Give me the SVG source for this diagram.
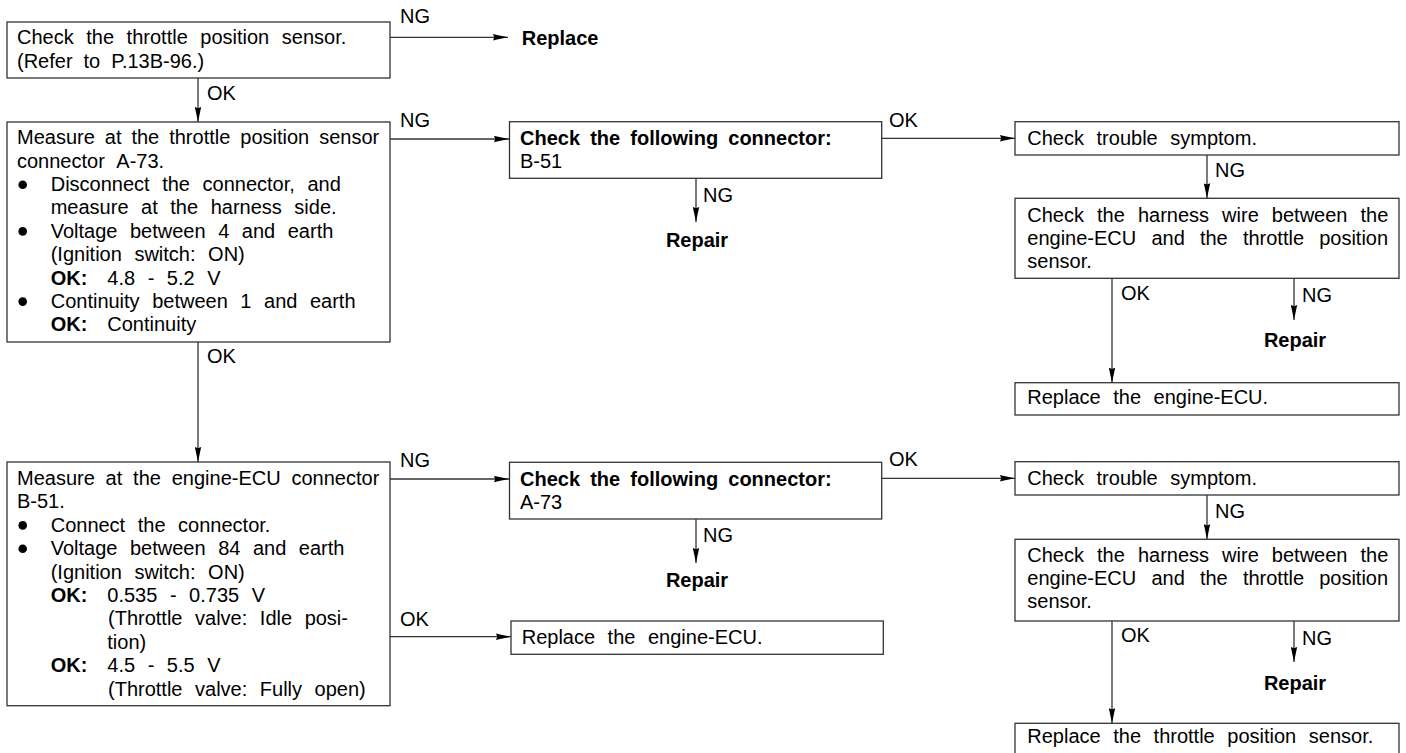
<svg xmlns="http://www.w3.org/2000/svg" width="1406" height="753" viewBox="0 0 1406 753">
<defs>
<style>
.box{fill:#fff;stroke:#333;stroke-width:1.3}
.t{font-family:"Liberation Sans",Arial,Helvetica,sans-serif;font-size:20px;word-spacing:7px;fill:#000}
.b{font-weight:bold}
.c{font-family:"Liberation Sans",Arial,Helvetica,sans-serif;font-size:20px;font-weight:bold;fill:#000;text-anchor:middle}
.conn{stroke:#333;stroke-width:1.3;fill:none;marker-end:url(#ah)}
.dot{fill:#000}
</style>
<marker id="ah" markerUnits="userSpaceOnUse" viewBox="0 0 15 7" markerWidth="15" markerHeight="7" refX="15" refY="3.5" orient="auto">
<path d="M0,0.3 L4,1.2 L15,3.5 L4,5.8 L0,6.7 L1.2,3.5 z" fill="#000"/>
</marker>
</defs>
<rect width="1406" height="753" fill="#fff"/>

<g id="connectors">
<path class="conn" d="M390,37.3 H508"/>
<path class="conn" d="M198,78 V122"/>
<path class="conn" d="M390,139 H509"/>
<path class="conn" d="M198,342 V462"/>
<path class="conn" d="M882,138.3 H1015"/>
<path class="conn" d="M696,178.3 V222"/>
<path class="conn" d="M1207,155 V198.3"/>
<path class="conn" d="M1112,278.3 V382.7"/>
<path class="conn" d="M1294,278.3 V320"/>
<path class="conn" d="M390,479 H509"/>
<path class="conn" d="M390,636.7 H511"/>
<path class="conn" d="M882,478.3 H1015"/>
<path class="conn" d="M696,519 V563"/>
<path class="conn" d="M1207,495 V539.3"/>
<path class="conn" d="M1112,621 V723.3"/>
<path class="conn" d="M1294,621 V662"/>
<g class="t">
<text x="400" y="23">NG</text>
<text x="207" y="100">OK</text>
<text x="400" y="126.5">NG</text>
<text x="207" y="363">OK</text>
<text x="889" y="126.5">OK</text>
<text x="703" y="201.7">NG</text>
<text x="1215" y="177">NG</text>
<text x="1121" y="300">OK</text>
<text x="1302" y="301.5">NG</text>
<text x="400" y="467">NG</text>
<text x="400" y="625.7">OK</text>
<text x="889" y="466">OK</text>
<text x="703" y="541.7">NG</text>
<text x="1215" y="518">NG</text>
<text x="1121" y="641.7">OK</text>
<text x="1302" y="645">NG</text>
</g>
</g>

<g id="n1">
<rect class="box" x="7" y="22" width="383" height="56"/>
<text class="t" x="17" y="44">Check the throttle position sensor.</text>
<text class="t" x="17" y="67.7" style="word-spacing:5.4px">(Refer to P.13B-96.)</text>
</g>

<g id="replace1">
<text class="t b" x="521.7" y="45" style="word-spacing:0">Replace</text>
</g>

<g id="n2">
<rect class="box" x="7" y="122" width="383" height="220"/>
<text class="t" x="17" y="144.3" style="word-spacing:4.4px">Measure at the throttle position sensor</text>
<text class="t" x="17" y="167.7">connector A-73.</text>
<circle class="dot" cx="22.7" cy="184.7" r="4.3"/>
<text class="t" x="50.7" y="191">Disconnect the connector, and</text>
<text class="t" x="50.7" y="214.4">measure at the harness side.</text>
<circle class="dot" cx="22.7" cy="231.4" r="4.3"/>
<text class="t" x="50.7" y="237.8">Voltage between 4 and earth</text>
<text class="t" x="50.7" y="261.2">(Ignition switch: ON)</text>
<text class="t b" x="50.7" y="284.6">OK:</text>
<text class="t" x="107.3" y="284.6">4.8 - 5.2 V</text>
<circle class="dot" cx="22.7" cy="301.6" r="4.3"/>
<text class="t" x="50.7" y="308">Continuity between 1 and earth</text>
<text class="t b" x="50.7" y="331.4">OK:</text>
<text class="t" x="107.3" y="331.4">Continuity</text>
</g>

<g id="n3">
<rect class="box" x="7" y="462" width="383" height="243.7"/>
<text class="t" x="17" y="485" style="word-spacing:5.25px">Measure at the engine-ECU connector</text>
<text class="t" x="17" y="508.4">B-51.</text>
<circle class="dot" cx="22.7" cy="525.4" r="4.3"/>
<text class="t" x="50.7" y="531.8">Connect the connector.</text>
<circle class="dot" cx="22.7" cy="548.8" r="4.3"/>
<text class="t" x="50.7" y="555.2">Voltage between 84 and earth</text>
<text class="t" x="50.7" y="578.6">(Ignition switch: ON)</text>
<text class="t b" x="50.7" y="602">OK:</text>
<text class="t" x="107.3" y="602">0.535 - 0.735 V</text>
<text class="t" x="108" y="625.4">(Throttle valve: Idle posi-</text>
<text class="t" x="107.3" y="648.8">tion)</text>
<text class="t b" x="50.7" y="672.2">OK:</text>
<text class="t" x="107.3" y="672.2">4.5 - 5.5 V</text>
<text class="t" x="108" y="695.6">(Throttle valve: Fully open)</text>
</g>

<g id="n4">
<rect class="box" x="509.5" y="121.7" width="372.2" height="56.6"/>
<text class="t b" x="520" y="145" style="word-spacing:4.6px">Check the following connector:</text>
<text class="t" x="520" y="168.3">B-51</text>
</g>
<g id="repair1"><text class="c" x="697" y="247.3">Repair</text></g>

<g id="n5">
<rect class="box" x="1015" y="121.7" width="384" height="33.3"/>
<text class="t" x="1027.3" y="145">Check trouble symptom.</text>
</g>

<g id="n6">
<rect class="box" x="1015" y="198.3" width="384" height="80"/>
<text class="t" x="1027.3" y="221.7" style="word-spacing:7.5px">Check the harness wire between the</text>
<text class="t" x="1027.3" y="245" style="word-spacing:9.6px">engine-ECU and the throttle position</text>
<text class="t" x="1027.3" y="268.3">sensor.</text>
</g>
<g id="repair2"><text class="c" x="1295" y="346.7">Repair</text></g>

<g id="n7">
<rect class="box" x="1015" y="382.7" width="384" height="32.3"/>
<text class="t" x="1027.3" y="404">Replace the engine-ECU.</text>
</g>

<g id="n8">
<rect class="box" x="509.5" y="462.3" width="372.2" height="56.7"/>
<text class="t b" x="520" y="486" style="word-spacing:4.6px">Check the following connector:</text>
<text class="t" x="520" y="509.3">A-73</text>
</g>
<g id="repair3"><text class="c" x="697" y="587.3">Repair</text></g>

<g id="n9">
<rect class="box" x="511" y="621" width="372.3" height="33.3"/>
<text class="t" x="521.7" y="644">Replace the engine-ECU.</text>
</g>

<g id="n10">
<rect class="box" x="1015" y="461.7" width="384" height="33.3"/>
<text class="t" x="1027.3" y="485">Check trouble symptom.</text>
</g>

<g id="n11">
<rect class="box" x="1015" y="539.3" width="384" height="81.7"/>
<text class="t" x="1027.3" y="561.7" style="word-spacing:7.5px">Check the harness wire between the</text>
<text class="t" x="1027.3" y="585" style="word-spacing:9.6px">engine-ECU and the throttle position</text>
<text class="t" x="1027.3" y="608.3">sensor.</text>
</g>
<g id="repair4"><text class="c" x="1295" y="690">Repair</text></g>

<g id="n12">
<rect class="box" x="1015" y="723.3" width="384" height="40"/>
<text class="t" x="1027.3" y="743.3">Replace the throttle position sensor.</text>
</g>
</svg>
